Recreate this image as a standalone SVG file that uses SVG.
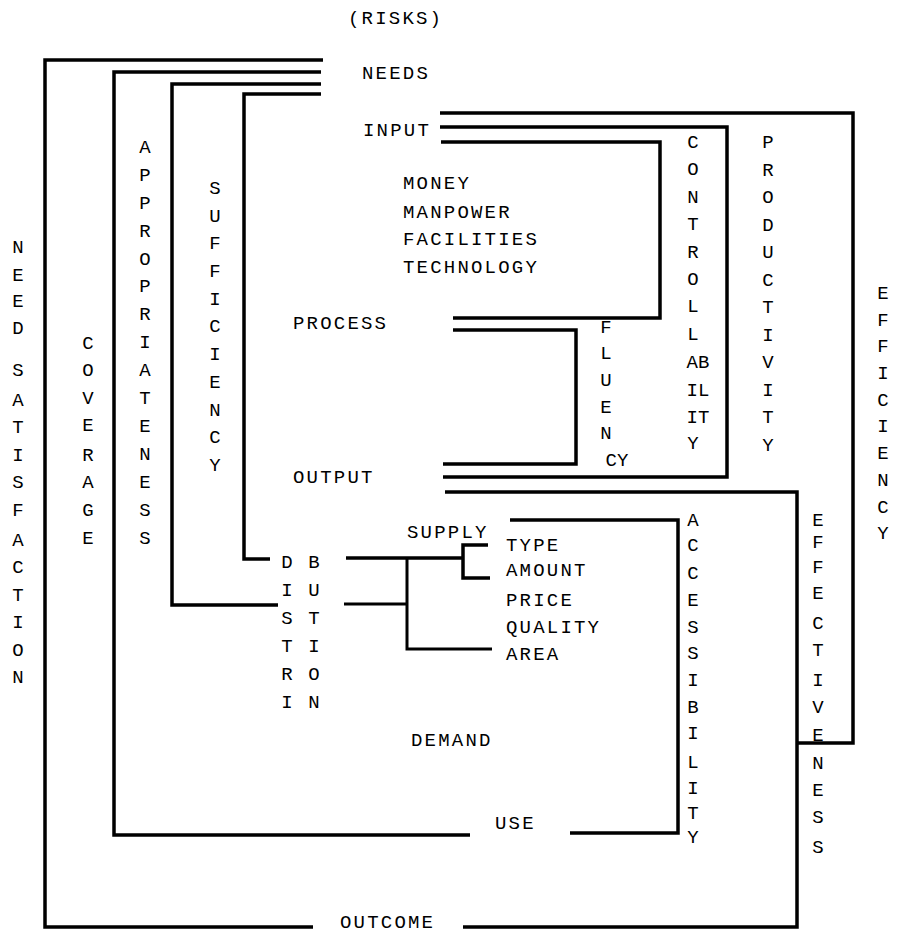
<svg xmlns="http://www.w3.org/2000/svg" width="898" height="935" viewBox="0 0 898 935">
<style>
.t{font-family:"Liberation Mono","DejaVu Sans Mono",monospace;font-size:19px;letter-spacing:2.2px;fill:#000}
.v{text-anchor:middle;letter-spacing:0}
.c{fill:none;stroke:#000;stroke-width:3.5;stroke-linejoin:miter;stroke-linecap:butt}
.b{fill:none;stroke:#000;stroke-width:3;stroke-linecap:butt}
</style>
<rect width="898" height="935" fill="#fff"/>
<g id="risks"><text class="t" x="348" y="24">(RISKS)</text></g>
<g id="needs"><text class="t" x="362" y="79">NEEDS</text></g>
<g id="input"><text class="t" x="363" y="136">INPUT</text></g>
<g id="resources"><text class="t" x="403" y="189">MONEY</text><text class="t" x="403" y="218">MANPOWER</text><text class="t" x="403" y="245">FACILITIES</text><text class="t" x="403" y="273">TECHNOLOGY</text></g>
<g id="process"><text class="t" x="293" y="329">PROCESS</text></g>
<g id="output"><text class="t" x="293" y="483">OUTPUT</text></g>
<g id="supply"><text class="t" x="407" y="538">SUPPLY</text></g>
<g id="attributes"><text class="t" x="506" y="551">TYPE</text><text class="t" x="506" y="576">AMOUNT</text><text class="t" x="506" y="606">PRICE</text><text class="t" x="506" y="633">QUALITY</text><text class="t" x="506" y="660">AREA</text></g>
<g id="demand"><text class="t" x="411" y="746">DEMAND</text></g>
<g id="use"><text class="t" x="495" y="829">USE</text></g>
<g id="outcome"><text class="t" x="340" y="928">OUTCOME</text></g>
<g id="need-satisfaction"><text class="t v"><tspan x="18" y="253">N</tspan><tspan x="18" y="281">E</tspan><tspan x="18" y="307">E</tspan><tspan x="18" y="334">D</tspan><tspan x="18" y="376">S</tspan><tspan x="18" y="406">A</tspan><tspan x="18" y="433">T</tspan><tspan x="18" y="461">I</tspan><tspan x="18" y="488">S</tspan><tspan x="18" y="516">F</tspan><tspan x="18" y="546">A</tspan><tspan x="18" y="573">C</tspan><tspan x="18" y="601">T</tspan><tspan x="18" y="628">I</tspan><tspan x="18" y="656">O</tspan><tspan x="18" y="683">N</tspan></text></g>
<g id="coverage"><text class="t v"><tspan x="88" y="349">C</tspan><tspan x="88" y="376">O</tspan><tspan x="88" y="404">V</tspan><tspan x="88" y="431">E</tspan><tspan x="88" y="461">R</tspan><tspan x="88" y="488">A</tspan><tspan x="88" y="516">G</tspan><tspan x="88" y="544">E</tspan></text></g>
<g id="appropriateness"><text class="t v"><tspan x="145" y="153">A</tspan><tspan x="145" y="181">P</tspan><tspan x="145" y="209">P</tspan><tspan x="145" y="237">R</tspan><tspan x="145" y="265">O</tspan><tspan x="145" y="292">P</tspan><tspan x="145" y="320">R</tspan><tspan x="145" y="348">I</tspan><tspan x="145" y="376">A</tspan><tspan x="145" y="404">T</tspan><tspan x="145" y="432">E</tspan><tspan x="145" y="460">N</tspan><tspan x="145" y="488">E</tspan><tspan x="145" y="516">S</tspan><tspan x="145" y="544">S</tspan></text></g>
<g id="sufficiency"><text class="t v"><tspan x="215" y="194">S</tspan><tspan x="215" y="222">U</tspan><tspan x="215" y="249">F</tspan><tspan x="215" y="277">F</tspan><tspan x="215" y="305">I</tspan><tspan x="215" y="332">C</tspan><tspan x="215" y="360">I</tspan><tspan x="215" y="388">E</tspan><tspan x="215" y="416">N</tspan><tspan x="215" y="443">C</tspan><tspan x="215" y="471">Y</tspan></text></g>
<g id="distribution"><text class="t v"><tspan x="287" y="568">D</tspan><tspan x="287" y="596">I</tspan><tspan x="287" y="624">S</tspan><tspan x="287" y="652">T</tspan><tspan x="287" y="680">R</tspan><tspan x="287" y="708">I</tspan><tspan x="314" y="568">B</tspan><tspan x="314" y="596">U</tspan><tspan x="314" y="624">T</tspan><tspan x="314" y="652">I</tspan><tspan x="314" y="680">O</tspan><tspan x="314" y="708">N</tspan></text></g>
<g id="fluency"><text class="t v"><tspan x="606" y="333">F</tspan><tspan x="606" y="359">L</tspan><tspan x="606" y="386">U</tspan><tspan x="606" y="413">E</tspan><tspan x="606" y="439">N</tspan><tspan x="617" y="466">CY</tspan></text></g>
<g id="controllability"><text class="t v"><tspan x="693" y="148">C</tspan><tspan x="693" y="175">O</tspan><tspan x="693" y="203">N</tspan><tspan x="693" y="230">T</tspan><tspan x="693" y="258">R</tspan><tspan x="693" y="285">O</tspan><tspan x="693" y="312">L</tspan><tspan x="693" y="340">L</tspan><tspan x="698" y="368">AB</tspan><tspan x="698" y="396">IL</tspan><tspan x="698" y="423">IT</tspan><tspan x="693" y="449">Y</tspan></text></g>
<g id="productivity"><text class="t v"><tspan x="768" y="148">P</tspan><tspan x="768" y="176">R</tspan><tspan x="768" y="203">O</tspan><tspan x="768" y="231">D</tspan><tspan x="768" y="258">U</tspan><tspan x="768" y="286">C</tspan><tspan x="768" y="313">T</tspan><tspan x="768" y="341">I</tspan><tspan x="768" y="368">V</tspan><tspan x="768" y="396">I</tspan><tspan x="768" y="423">T</tspan><tspan x="768" y="451">Y</tspan></text></g>
<g id="efficiency"><text class="t v"><tspan x="883" y="299">E</tspan><tspan x="883" y="326">F</tspan><tspan x="883" y="352">F</tspan><tspan x="883" y="379">I</tspan><tspan x="883" y="406">C</tspan><tspan x="883" y="432">I</tspan><tspan x="883" y="459">E</tspan><tspan x="883" y="486">N</tspan><tspan x="883" y="513">C</tspan><tspan x="883" y="539">Y</tspan></text></g>
<g id="accessibility"><text class="t v"><tspan x="693" y="526">A</tspan><tspan x="693" y="551">C</tspan><tspan x="693" y="579">C</tspan><tspan x="693" y="606">E</tspan><tspan x="693" y="633">S</tspan><tspan x="693" y="659">S</tspan><tspan x="693" y="686">I</tspan><tspan x="693" y="713">B</tspan><tspan x="693" y="739">I</tspan><tspan x="693" y="768">L</tspan><tspan x="693" y="794">I</tspan><tspan x="693" y="819">T</tspan><tspan x="693" y="843">Y</tspan></text></g>
<g id="effectiveness"><text class="t v"><tspan x="818" y="526">E</tspan><tspan x="818" y="548">F</tspan><tspan x="818" y="573">F</tspan><tspan x="818" y="599">E</tspan><tspan x="818" y="629">C</tspan><tspan x="818" y="656">T</tspan><tspan x="818" y="686">I</tspan><tspan x="818" y="713">V</tspan><tspan x="818" y="741">E</tspan><tspan x="818" y="769">N</tspan><tspan x="818" y="796">E</tspan><tspan x="818" y="823">S</tspan><tspan x="818" y="853">S</tspan></text></g>
<g id="connectors">
<path class="c" d="M323,60 H45 V927 H313"/>
<path class="c" d="M445,492 H797 V927 H463"/>
<path class="c" d="M321,72 H114 V835 H470"/>
<path class="c" d="M570,833 H678 V520 H510"/>
<path class="c" d="M321,84 H172 V605 H278"/>
<path class="c" d="M321,94 H244 V559 H270"/>
<path class="c" d="M440,113 H853 V743 H797"/>
<path class="c" d="M440,127 H727 V477 H443"/>
<path class="c" d="M441,142 H660 V318 H453"/>
<path class="c" d="M453,330 H576 V464 H443"/>
<path class="c" d="M346,558 H463"/>
<path class="c" d="M488,545 H463 V578 H490"/>
<path class="b" d="M344,604 H407"/>
<path class="b" d="M407,558 V649 H492"/>
</g>
</svg>
